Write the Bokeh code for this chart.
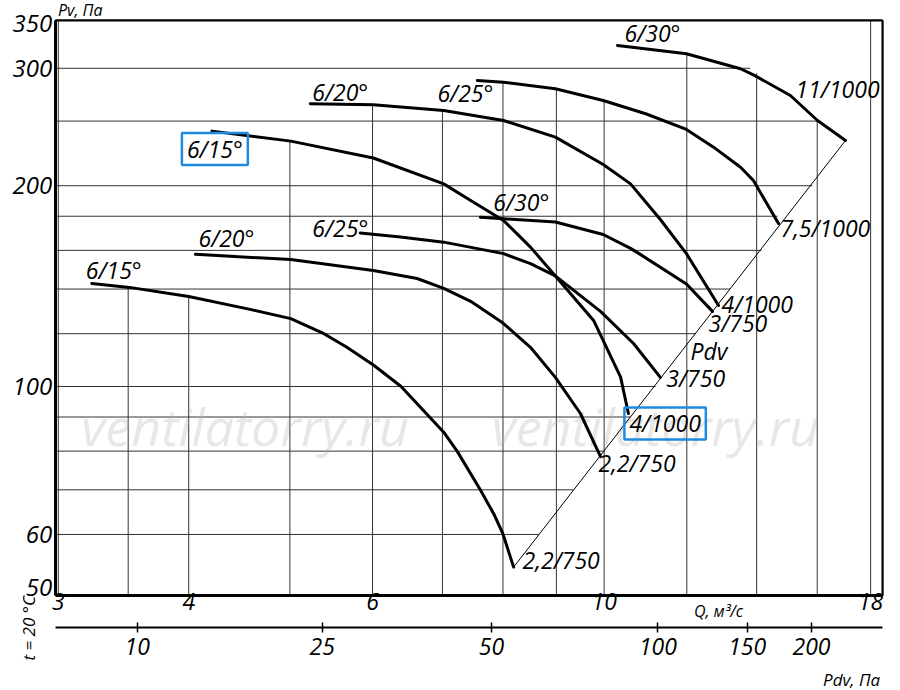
from bokeh.plotting import figure
from bokeh.models import Range1d, FixedTicker, LinearAxis
from bokeh.core.properties import value
from bokeh.embed import file_html
from bokeh.resources import INLINE

FONT = "Open Sans"
BLUE = "#1e8be0"
GRID = "#333333"

# ---- chart frame / axes ---------------------------------------------------
q_min, q_max = 2.98, 18.48          # Q, m3/s (log) - frame of the chart
pv_min, pv_max = 48.6, 354.0        # Pv, Pa (log)
q_view = (2.641, 19.226)            # whole sheet incl. margins
pv_view = (35.01, 379.1)
q_ticks = [3, 4, 6, 10, 18]
q_tick_labels = ["3", "4", "6", "10", "18"]
pv_ticks = [50, 60, 100, 200, 300, 350]
pv_tick_labels = ["50", "60", "100", "200", "300", "350"]
pdv_values = [10, 25, 50, 100, 150, 200]            # Pdv, Pa
pdv_q = [3.57, 5.37, 7.80, 11.26, 13.71, 15.80]     # their place on the Q scale
pdv_axis_pv = 43.5                                  # Pdv scale drawn under the Q scale

# ---- grid (partial lines, as in the catalogue sheet) ---------------------
h_grid = [60, 70, 80, 90, 100, 120, 140, 160, 180, 200, 250, 300]
h_grid_end_q = [8.66, 9.35, 10.0, 10.6, 11.2, 12.25, 13.2, 14.15, 14.66, 15.83, 16.0, 13.8]
v_grid = [3, 3.5, 4, 5, 6, 7, 8, 9, 10, 12, 14, 16, 18]
v_grid_top_pv = [354, 140.8, 136.4, 232.5, 263.9, 259.3, 286.6, 279.5, 268.4, 315.7, 294.7, 250.5, 354]

# ---- fan curves (Q, Pv) --------------------------------------------------
q_a = [3.23, 3.51, 4.00, 4.58, 5.01, 5.39, 5.67, 6.02, 6.39, 7.02, 7.23, 7.61, 7.84, 8.00, 8.19]
pv_a = [142.7, 140.8, 136.4, 130.5, 126.4, 120.0, 114.5, 107.5, 100.0, 85.4, 80.0, 70.0, 64.4, 60.1, 53.6]

q_b = [4.06, 5.01, 6.01, 6.62, 7.02, 7.45, 8.00, 8.50, 8.98, 9.49, 9.92]
pv_b = [157.8, 155.0, 149.3, 145.2, 140.3, 134.2, 124.5, 114.5, 103.2, 91.1, 78.5]

q_c = [5.84, 6.38, 7.02, 8.01, 8.50, 8.98, 9.92, 10.67, 11.32]
pv_c = [169.9, 167.5, 164.6, 158.2, 152.8, 146.5, 129.6, 116.0, 103.2]

q_d = [7.61, 8.01, 8.98, 9.98, 10.60, 10.83, 11.99, 12.70]
pv_d = [179.4, 178.4, 176.5, 169.0, 161.1, 157.8, 142.5, 129.6]

q_e = [4.21, 5.01, 6.01, 7.02, 7.45, 8.01, 8.50, 8.98, 9.77, 10.37, 10.55]
pv_e = [241.5, 233.3, 220.1, 201.3, 190.1, 177.4, 161.8, 146.5, 125.6, 103.3, 91.1]

q_f = [5.23, 6.01, 7.02, 8.01, 8.98, 9.98, 10.60, 11.32, 11.99, 12.87]
pv_f = [265.4, 264.5, 259.3, 250.5, 236.5, 215.2, 201.3, 178.0, 158.2, 132.3]

q_g = [7.56, 8.01, 8.98, 9.98, 10.96, 11.99, 12.73, 13.51, 13.90, 14.69]
pv_g = [287.6, 285.9, 279.5, 268.4, 256.4, 242.9, 228.5, 213.2, 203.6, 175.5]

q_h = [10.30, 11.99, 13.51, 13.93, 15.08, 16.01, 17.03]
pv_h = [324.6, 315.4, 299.5, 292.7, 273.1, 250.5, 233.8]

curves = [(q_a, pv_a), (q_b, pv_b), (q_c, pv_c), (q_d, pv_d),
          (q_e, pv_e), (q_f, pv_f), (q_g, pv_g), (q_h, pv_h)]
start_labels = ["6/15°", "6/20°", "6/25°", "6/30°", "6/15°", "6/20°", "6/25°", "6/30°"]
end_labels = ["2,2/750", "2,2/750", "3/750", "3/750", "4/1000", "4/1000", "7,5/1000", "11/1000"]

# ---- figure --------------------------------------------------------------
p = figure(width=900, height=690, x_axis_type="log", y_axis_type="log",
           x_range=Range1d(*q_view), y_range=Range1d(*pv_view),
           output_backend="svg", toolbar_location=None,
           min_border_left=0, min_border_right=0, min_border_top=0, min_border_bottom=0)
p.grid.visible = False
p.outline_line_color = None
p.background_fill_color = "white"
p.border_fill_color = "white"

xa = p.xaxis[0]
xa.fixed_location = pv_min
xa.bounds = (q_min, q_max)
xa.ticker = FixedTicker(ticks=q_ticks)
xa.major_label_overrides = {t: s for t, s in zip(q_ticks, q_tick_labels)}
xa.major_label_standoff = -2
xa.major_label_text_font_size = "23px"

ya = p.yaxis[0]
ya.fixed_location = q_min
ya.bounds = (pv_min, pv_max)
ya.ticker = FixedTicker(ticks=pv_ticks)
ya.major_label_overrides = {t: s for t, s in zip(pv_ticks, pv_tick_labels)}
ya.major_label_standoff = 3
ya.major_label_text_font_size = "24px"

for ax in (xa, ya):
    ax.axis_line_width = 3
    ax.major_tick_in = 0
    ax.major_tick_out = 0
    ax.minor_tick_in = 0
    ax.minor_tick_out = 0
    ax.major_label_text_font = FONT
    ax.major_label_text_font_style = "italic"
    ax.major_label_text_color = "black"

pdv_axis = LinearAxis(ticker=FixedTicker(ticks=pdv_q), fixed_location=pdv_axis_pv,
                      bounds=(q_min, q_max),
                      major_label_overrides={q: str(v) for q, v in zip(pdv_q, pdv_values)})
pdv_axis.axis_line_width = 2
pdv_axis.major_tick_in = 5
pdv_axis.major_tick_out = 5
pdv_axis.major_tick_line_width = 1.5
pdv_axis.minor_tick_in = 0
pdv_axis.minor_tick_out = 0
pdv_axis.major_label_standoff = 5
pdv_axis.major_label_text_font = FONT
pdv_axis.major_label_text_font_style = "italic"
pdv_axis.major_label_text_font_size = "23px"
pdv_axis.major_label_text_color = "black"
p.add_layout(pdv_axis, "below")

# grid
p.segment(x0=[q_min] * len(h_grid), y0=h_grid, x1=h_grid_end_q, y1=h_grid,
          line_color=GRID, line_width=1)
p.segment(x0=v_grid, y0=[pv_min] * len(v_grid), x1=v_grid, y1=v_grid_top_pv,
          line_color=GRID, line_width=1)
# top and right edges of the chart frame
p.segment(x0=[q_min, q_max], y0=[pv_max, pv_min], x1=[q_max, q_max], y1=[pv_max, pv_max],
          line_color="black", line_width=2.2)

# watermark
p.text(x=[4.53, 11.2], y=[87.4, 87.4], text=["ventilatorry.ru", "ventilatorry.ru"],
       text_font=value(FONT), text_font_style="italic", text_font_size="52px",
       text_align="center", text_baseline="middle", text_color="#b0b0b0", text_alpha=0.3)

# Pdv line through curve ends
p.line(x=[q_a[-1], q_h[-1]], y=[pv_a[-1], pv_h[-1]], line_color="black", line_width=1)

for q, pv in curves:
    p.line(x=q, y=pv, line_color="black", line_width=3, line_join="round", line_cap="round")


def put_text(q, pv, txt, dx, dy, align="left", box=False, size="23px", angle=0.0):
    kw = {}
    if box:
        kw = dict(border_line_color=BLUE, border_line_width=2.5, padding=(5, 0))
    p.text(x=[q], y=[pv], text=[txt], x_offset=dx, y_offset=dy, angle=angle,
           text_font=value(FONT), text_font_style="italic", text_font_size=size,
           text_align=align, text_baseline="middle", text_color="black", **kw)


start_style = [(-6, -13.5, "left", False), (3, -16.5, "left", False), (8, -5, "right", False),
               (13, -15, "left", False), (-30, 18, "left", True), (2, -12, "left", False),
               (16, 12.5, "right", False), (7, -12.5, "left", False)]
end_style = [(9, -7, "left", False), (-2, 6, "left", False), (6, 1, "left", False),
             (-4, 11.5, "left", False), (-4, 10, "left", True), (3, -1.5, "left", False),
             (2, 4, "left", False), (-50, -51, "left", False)]

for (q, pv), lab, st in zip(curves, start_labels, start_style):
    put_text(q[0], pv[0], lab, st[0], st[1], st[2], st[3])
for (q, pv), lab, st in zip(curves, end_labels, end_style):
    put_text(q[-1], pv[-1], lab, st[0], st[1], st[2], st[3])

put_text(12.1, 113.2, "Pdv", 0, 0)

# captions
put_text(3.149, 366.3, "Pv, Па", 0, 0, align="center", size="16px")
put_text(12.87, 46.1, "Q, м³/с", 0, 0, align="center", size="16px")
put_text(17.26, 36.4, "Pdv, Па", 0, 0, align="center", size="17px")
put_text(2.809, 43.4, "t = 20 °C", 0, 0, align="center", size="17px", angle=1.5708)

open("out.html", "w").write(file_html(p, INLINE))
